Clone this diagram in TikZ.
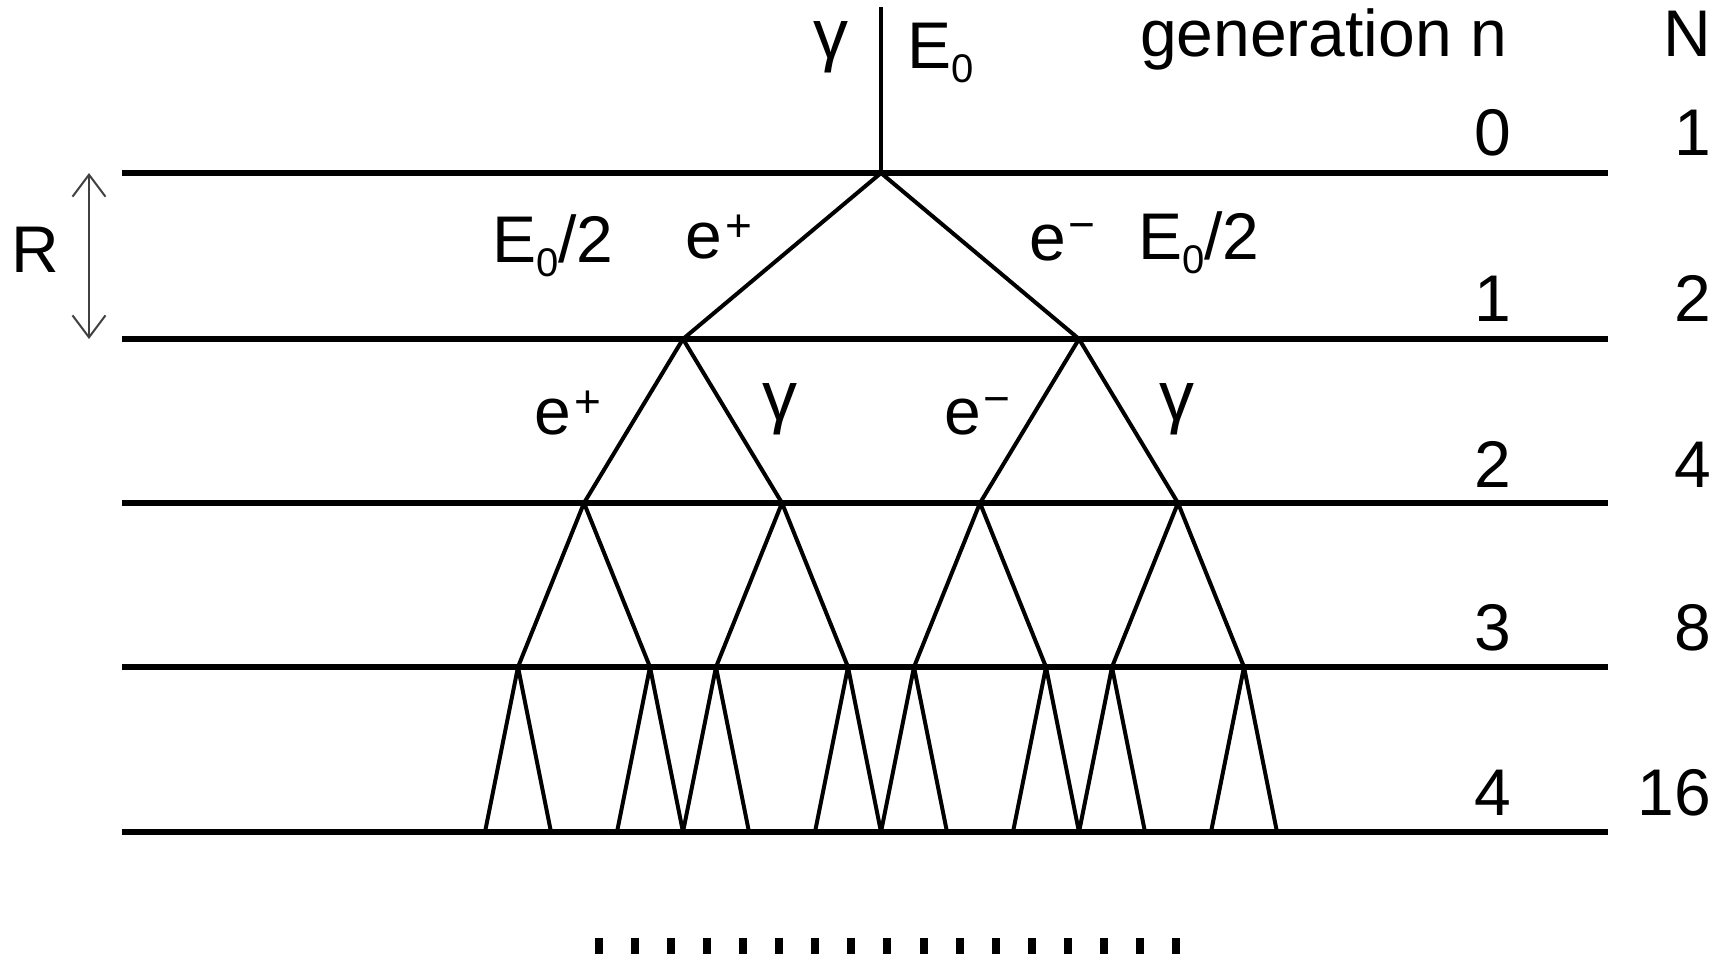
\documentclass[tikz,border=0pt]{standalone}
\usepackage{fontspec}
\setmainfont{Liberation Sans}
\usetikzlibrary{arrows.meta}
\newcommand\Ezero{E\raisebox{-7pt}{\fontsize{20}{20}\selectfont 0}}
\newcommand\ePlus{e\kern2pt\raisebox{8.5pt}{\fontsize{23}{23}\selectfont +}}
\newcommand\eMinus{e\kern1.5pt\raisebox{10pt}{\fontsize{23}{23}\selectfont −}}
\begin{document}
\begin{tikzpicture}[x=0.5pt,y=-0.5pt,
  lbl/.style={inner sep=0pt,outer sep=0pt,font=\fontsize{33}{40}\selectfont},
  gam/.style={inner sep=0pt,outer sep=0pt,font=\fontsize{35}{40}\selectfont},
  level/.style={line width=2.8pt,line cap=butt},
  ray/.style={line width=2pt,line join=round,line cap=butt},
  rarrow/.style={line width=1pt,draw=black!75,{Straight Barb[length=11pt,width=16.5pt,line width=1pt]}-{Straight Barb[length=11pt,width=16.5pt,line width=1pt]}},
  dotmark/.style={fill=black,draw=none}]
\useasboundingbox (0,0) rectangle (1726,954);

% generation levels
\foreach \k/\y in {0/173,1/339,2/503,3/667,4/832}{
  \coordinate (L\k w) at (122,\y);
  \coordinate (L\k e) at (1608,\y);
  \draw[level] (L\k w) -- (L\k e);
}

% incoming photon
\coordinate (top) at (881,7);
\coordinate (v) at (881,173);
\draw[ray] (top) -- (v);

% generation 1
\coordinate (g1-1) at (683,339);
\coordinate (g1-2) at (1079,339);
\draw[ray] (v) -- (g1-1);
\draw[ray] (v) -- (g1-2);

% generation 2
\foreach \i/\x in {1/584,2/782,3/980,4/1178}{
  \coordinate (g2-\i) at (\x,503);
}
\foreach \k in {1,2}{
  \pgfmathtruncatemacro\ca{2*\k-1}
  \pgfmathtruncatemacro\cb{2*\k}
  \draw[ray] (g1-\k) -- (g2-\ca);
  \draw[ray] (g1-\k) -- (g2-\cb);
}

% generation 3
\foreach \i/\x in {1/518,2/650,3/716,4/848,5/914,6/1046,7/1112,8/1244}{
  \coordinate (g3-\i) at (\x,667);
}
\foreach \k in {1,2,3,4}{
  \pgfmathtruncatemacro\ca{2*\k-1}
  \pgfmathtruncatemacro\cb{2*\k}
  \draw[ray] (g2-\k) -- (g3-\ca);
  \draw[ray] (g2-\k) -- (g3-\cb);
}

% generation 4
\foreach \i/\x in {1/518,2/650,3/716,4/848,5/914,6/1046,7/1112,8/1244}{
  \coordinate (g4-\i-l) at (\x-33,832);
  \coordinate (g4-\i-r) at (\x+33,832);
  \draw[ray] (g3-\i) -- (g4-\i-l);
  \draw[ray] (g3-\i) -- (g4-\i-r);
}

% radiation length arrow
\coordinate (Rt) at (89,173);
\coordinate (Rb) at (89,339);
\draw[rarrow] (Rt) -- (Rb);
\node[lbl,anchor=base] (R) at (35,272) {R};

% top labels
\node[gam] (gam0) at (831,47.5) {γ};
\node[lbl,anchor=base west] (E0) at (907,68) {\Ezero};
\node[lbl,anchor=base west] (gen) at (1140,56) {generation n};
\node[lbl,anchor=base east] (Nh) at (1711,56) {N};

% columns n and N
\foreach \n/\N/\y in {0/1/155,1/2/321,2/4/487,3/8/650,4/16/815}{
  \node[lbl,anchor=base] (n\n) at (1493,\y) {\n};
  \node[lbl,anchor=base east] (N\n) at (1711,\y) {\N};
}

% generation 1 labels
\node[lbl,anchor=base west] (Eleft) at (492,262) {\Ezero/2};
\node[lbl,anchor=base west] (ep1) at (685,258) {\ePlus};
\node[lbl,anchor=base west] (em1) at (1029,260) {\eMinus};
\node[lbl,anchor=base west] (Eright) at (1138,259) {\Ezero/2};

% generation 2 labels
\node[lbl,anchor=base west] (ep2) at (534,434) {\ePlus};
\node[gam] (gam1) at (780,409) {γ};
\node[lbl,anchor=base west] (em2) at (944,434) {\eMinus};
\node[gam] (gam2) at (1177,409) {γ};

% continuation dots
\foreach \i in {0,...,16}{
  \fill[dotmark] (599+36.06*\i-4,938) rectangle (599+36.06*\i+4,954);
}
\end{tikzpicture}
\end{document}
